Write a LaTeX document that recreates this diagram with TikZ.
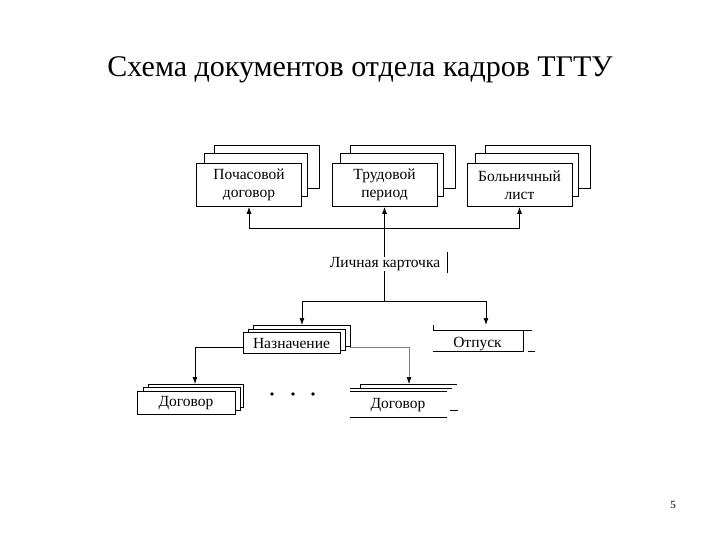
\documentclass[tikz,border=0pt]{standalone}
\usepackage{fontspec}
\setmainfont{Liberation Serif}
\usetikzlibrary{arrows.meta}
\begin{document}
\begin{tikzpicture}[x=1pt,y=-1pt,
  ln/.style={line width=0.8pt},
  txt/.style={font=\fontsize{15.5}{18}\selectfont},
  sheet/.style={draw, fill=white, line width=0.8pt},
  bigbox/.style={sheet, txt, minimum width=105pt, minimum height=43pt, inner sep=0pt, align=center},
  smallbox/.style={sheet, txt, minimum width=97pt, minimum height=21pt, inner sep=0pt},
  plain/.style={txt, inner sep=0pt},
  arr/.style={ln, -{Latex[length=7pt,width=5pt,color=black]}}]
\useasboundingbox (0,0) rectangle (720,540);
\node[font=\fontsize{30}{34}\selectfont] (title) at (360,70) {Схема документов отдела кадров ТГТУ};
% top row sheets
\foreach \cx in {249,384.5,519.5}{
  \draw[sheet] (\cx-52.5+18,163-18) rectangle (\cx+52.5+18,206-18);
  \draw[sheet] (\cx-52.5+8,163-10) rectangle (\cx+52.5+6,206-10);
}
\node[bigbox] (b1) at (249,185) {Почасовой\\договор};
\node[bigbox] (b2) at (384.5,185) {Трудовой\\период};
\node[bigbox] (b3) at (519.5,185) {Больничный\\лист};
% card
\node[plain] (card) at (385,264) {Личная карточка};
\draw[ln] (447,252) -- (447,273);
\coordinate (j1) at (384.5,228);
\coordinate (j2) at (384.5,301);
\draw[arr] (card.north -| b2.south) -- (b2.south);
\draw[arr] (j1) -| (b1.south);
\draw[arr] (j1) -| (b3.south);
% Назначение
\draw[sheet] (253,325) rectangle (350,346);
\draw[sheet] (248,329) rectangle (345,350);
\node[smallbox] (naz) at (291.5,343) {Назначение};
% Отпуск
\node[plain, minimum width=90pt, minimum height=21pt] (otp) at (477.5,344) {Отпуск};
\draw[ln] (433,325) -- (433,330) -- (532,330);
\draw[ln] (433,351) -- (523,351) -- (523,330);
\draw[ln] (528,351) -- (535,351);
\coordinate (naztop) at (302,325);
\coordinate (otptop) at (486,325);
\draw[ln] (card.south -| j2) -- (j2);
\draw[arr] (j2) -| (naztop);
\draw[arr] (j2) -| (otptop);
% Left Договор
\draw[sheet] (148,384) rectangle (243,407);
\draw[sheet] (143,387) rectangle (240,410);
\node[sheet, txt, minimum width=98pt, minimum height=23pt, inner sep=0pt] (d1) at (186,403) {Договор};
% Right Договор
\node[plain, minimum width=97pt, minimum height=26pt] (d2) at (398,405) {Договор};
\draw[ln] (360,388) -- (360,384) -- (457,384);
\draw[ln] (350,388) -- (452,388);
\draw[ln] (350,391) -- (447,391);
\draw[ln] (350,417) -- (447,417);
\draw[ln] (450,410) -- (458,410);
% connectors from Назначение
\coordinate (l1) at (195,347);
\coordinate (r1) at (409,347);
\coordinate (d1top) at (195,384);
\coordinate (d2top) at (409,384);
\draw[arr] (naz.west |- l1) -- (l1) -- (d1top);
\draw[arr, draw=gray, line width=0.6pt] (350,347) -- (r1) -- (d2top);
% dots
\node[circle, fill=black, inner sep=1.3pt] (p1) at (272,394) {};
\node[circle, fill=black, inner sep=1.3pt] (p2) at (293,394) {};
\node[circle, fill=black, inner sep=1.3pt] (p3) at (313,394) {};
\node[font=\fontsize{11}{13}\selectfont] (pg) at (673,505) {5};
\end{tikzpicture}
\end{document}
